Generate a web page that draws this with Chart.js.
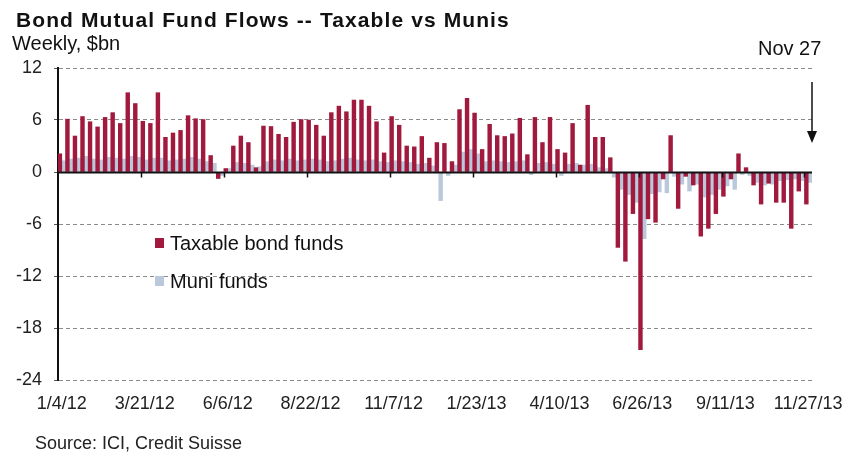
<!DOCTYPE html>
<html>
<head>
<meta charset="utf-8">
<title>Bond Mutual Fund Flows -- Taxable vs Munis</title>
<script src="https://cdn.jsdelivr.net/npm/chart.js@4.4.1/dist/chart.umd.min.js"></script>
<style>
  body { margin: 0; background: #fff; }
  #wrap { position: relative; width: 852px; height: 454px; background: #fff; font-family: "Liberation Sans", Arial, sans-serif; color: #111; }
  #wrap canvas { position: absolute; left: 0; top: 0; }
  .txt { position: absolute; line-height: 1; white-space: nowrap; }
  #title { left: 16px; top: 9px; font-size: 21px; font-weight: bold; letter-spacing: 1.1px; }
  #sub { left: 12px; top: 33px; font-size: 20px; }
  #nov { left: 758px; top: 38px; font-size: 20px; }
  #source { left: 35px; top: 434px; font-size: 18px; color: #222; }
  .key { position: absolute; width: 9px; height: 10px; }
  #arrow { position: absolute; left: 802px; top: 80px; }
</style>
</head>
<body>
<div id="wrap">
  <canvas id="flows" width="852" height="454"></canvas>
  <div class="txt" id="title">Bond Mutual Fund Flows -- Taxable vs Munis</div>
  <div class="txt" id="sub">Weekly, $bn</div>
  <div class="txt" id="nov">Nov 27</div>
  <div class="key" style="left:155px;top:238px;background:#a11a3e"></div>
  <div class="txt" style="left:170px;top:233px;font-size:20px">Taxable bond funds</div>
  <div class="key" style="left:155px;top:276px;background:#b9c8da"></div>
  <div class="txt" style="left:170px;top:271px;font-size:20px">Muni funds</div>
  <svg id="arrow" width="20" height="66">
    <line x1="10" y1="2" x2="10" y2="54" stroke="#111" stroke-width="1.5"/>
    <polygon points="5,51 15,51 10,63" fill="#111"/>
  </svg>
  <div class="txt" id="source">Source: ICI, Credit Suisse</div>
</div>
<script>
// weekly fund flows, $bn (weeks ending Wednesday)
const weeks = [
  '1/4/12', '1/11/12', '1/18/12', '1/25/12', '2/1/12', '2/8/12', '2/15/12', '2/22/12', '2/29/12', '3/7/12',
  '3/14/12', '3/21/12', '3/28/12', '4/4/12', '4/11/12', '4/18/12', '4/25/12', '5/2/12', '5/9/12', '5/16/12',
  '5/23/12', '5/30/12', '6/6/12', '6/13/12', '6/20/12', '6/27/12', '7/4/12', '7/11/12', '7/18/12', '7/25/12',
  '8/1/12', '8/8/12', '8/15/12', '8/22/12', '8/29/12', '9/5/12', '9/12/12', '9/19/12', '9/26/12', '10/3/12',
  '10/10/12', '10/17/12', '10/24/12', '10/31/12', '11/7/12', '11/14/12', '11/21/12', '11/28/12', '12/5/12', '12/12/12',
  '12/19/12', '12/26/12', '1/2/13', '1/9/13', '1/16/13', '1/23/13', '1/30/13', '2/6/13', '2/13/13', '2/20/13',
  '2/27/13', '3/6/13', '3/13/13', '3/20/13', '3/27/13', '4/3/13', '4/10/13', '4/17/13', '4/24/13', '5/1/13',
  '5/8/13', '5/15/13', '5/22/13', '5/29/13', '6/5/13', '6/12/13', '6/19/13', '6/26/13', '7/3/13', '7/10/13',
  '7/17/13', '7/24/13', '7/31/13', '8/7/13', '8/14/13', '8/21/13', '8/28/13', '9/4/13', '9/11/13', '9/18/13',
  '9/25/13', '10/2/13', '10/9/13', '10/16/13', '10/23/13', '10/30/13', '11/6/13', '11/13/13', '11/20/13', '11/27/13'
];

const taxable = [
  2.1, 6.1, 4.15, 6.4, 5.8, 5.2, 6.3, 6.85, 5.6, 9.15,
  7.9, 5.85, 5.6, 9.15, 4.0, 4.5, 4.8, 6.5, 6.15, 6.05,
  1.9, -0.75, 0.4, 3.0, 4.15, 3.4, 0.5, 5.3, 5.25, 4.35,
  4.0, 5.75, 6.05, 6.0, 5.4, 4.15, 6.85, 7.6, 6.95, 8.3,
  8.3, 7.6, 5.8, 2.2, 6.4, 5.4, 3.0, 2.9, 4.1, 1.6,
  3.4, 3.3, 1.2, 7.2, 8.5, 6.8, 2.6, 5.5, 4.2, 4.1,
  4.4, 6.2, 2.0, 6.3, 3.4, 6.3, 2.6, 2.2, 5.6, 0.8,
  7.7, 4.0, 4.0, 1.65, -8.7, -10.3, -4.8, -20.5, -5.4, -5.8,
  -0.8, 4.2, -4.2, -0.5, -1.5, -7.4, -6.5, -4.8, -2.8, -0.8,
  2.1, 0.5, -1.5, -3.7, -1.3, -3.5, -3.5, -6.5, -2.2, -3.7
];

const munis = [
  1.3, 1.5, 1.6, 1.8, 1.5, 1.4, 1.7, 1.6, 1.5, 1.8,
  1.7, 1.4, 1.6, 1.6, 1.3, 1.4, 1.5, 1.7, 1.5, 1.2,
  1.0, -0.4, 0.4, 1.1, 1.0, 0.8, 0.6, 1.2, 1.4, 1.3,
  1.5, 1.3, 1.4, 1.5, 1.4, 1.2, 1.3, 1.5, 1.6, 1.4,
  1.3, 1.4, 1.2, 1.1, 1.3, 1.2, 1.1, 0.9, 1.0, 0.7,
  -3.3, -0.4, 0.8, 2.3, 2.6, 2.1, 1.2, 1.3, 1.2, 1.1,
  1.2, 1.3, -0.3, 1.0, 1.1, 0.9, -0.4, 0.9, 1.0, 0.8,
  0.9, 0.5, 0.4, -0.6, -2.0, -2.6, -3.5, -7.7, -2.5, -2.3,
  -2.4, -0.5, -1.4, -2.2, -1.4, -2.9, -2.6, -2.0, -1.6, -2.0,
  -0.3, -0.4, -1.2, -1.5, -1.4, -1.0, -0.9, -0.8, -1.0, -1.2
];

const tickLabels = ['1/4/12', '3/21/12', '6/6/12', '8/22/12', '11/7/12', '1/23/13', '4/10/13', '6/26/13', '9/11/13', '11/27/13'];
const yTicks = [12, 6, 0, -6, -12, -18, -24];

const RED  = '#a11a3e';
const BLUE = '#b9c8da';

Chart.defaults.font.family = '"Liberation Sans", Arial, sans-serif';

// solid zero line plus the little date tick marks hanging under it
const zeroAxis = {
    id: 'zeroAxis',
    afterDatasetsDraw(chart) {
        const { ctx, chartArea, scales } = chart;
        const y0 = Math.round(scales.y.getPixelForValue(0)) + 0.5;
        const half = (scales.x.getPixelForValue(1) - scales.x.getPixelForValue(0)) / 2;
        ctx.save();
        ctx.strokeStyle = '#111';
        ctx.lineWidth = 2;
        ctx.beginPath();
        ctx.moveTo(chartArea.left, y0);
        ctx.lineTo(chartArea.right, y0);
        ctx.stroke();
        ctx.lineWidth = 1.5;
        weeks.forEach((w, i) => {
            if (i === 0 || !tickLabels.includes(w)) return;
            const x = Math.round(scales.x.getPixelForValue(i) - half) + 0.5;
            ctx.beginPath();
            ctx.moveTo(x, y0);
            ctx.lineTo(x, y0 + 5);
            ctx.stroke();
        });
        ctx.restore();
    }
};

new Chart(document.getElementById('flows'), {
    type: 'bar',
    data: {
        labels: weeks,
        datasets: [
            { label: 'Taxable bond funds', data: taxable, backgroundColor: RED,
              categoryPercentage: 1, barPercentage: 1 },
            { label: 'Muni funds', data: munis, backgroundColor: BLUE,
              categoryPercentage: 1, barPercentage: 1 }
        ]
    },
    options: {
        responsive: false,
        animation: false,
        layout: { padding: { left: 0, top: 68, right: 40, bottom: 0 } },
        plugins: {
            legend:  { display: false },
            tooltip: { enabled: false }
        },
        scales: {
            x: {
                grid:   { display: false, drawTicks: false },
                border: { display: false },
                ticks: {
                    autoSkip: false, maxRotation: 0, minRotation: 0,
                    padding: 13, color: '#222', font: { size: 18 },
                    callback: (v, i) => tickLabels.includes(weeks[i]) ? weeks[i] : ''
                },
                afterFit(s) { s.height = 74; s.paddingLeft = 0; s.paddingRight = 0; }
            },
            y: {
                min: -24, max: 12,
                afterBuildTicks(s) { s.ticks = yTicks.map(v => ({ value: v })); },
                ticks: { padding: 12, color: '#222', font: { size: 18 } },
                grid: {
                    color: c => c.tick && c.tick.value === 0 ? 'rgba(0,0,0,0)' : '#8a8a8a',
                    lineWidth: 1, tickColor: '#555', tickLength: 4
                },
                border: { color: '#111', width: 2, dash: [4, 3] },
                afterFit(s) { s.width = 58; }
            }
        }
    },
    plugins: [zeroAxis]
});
</script>
</body>
</html>
